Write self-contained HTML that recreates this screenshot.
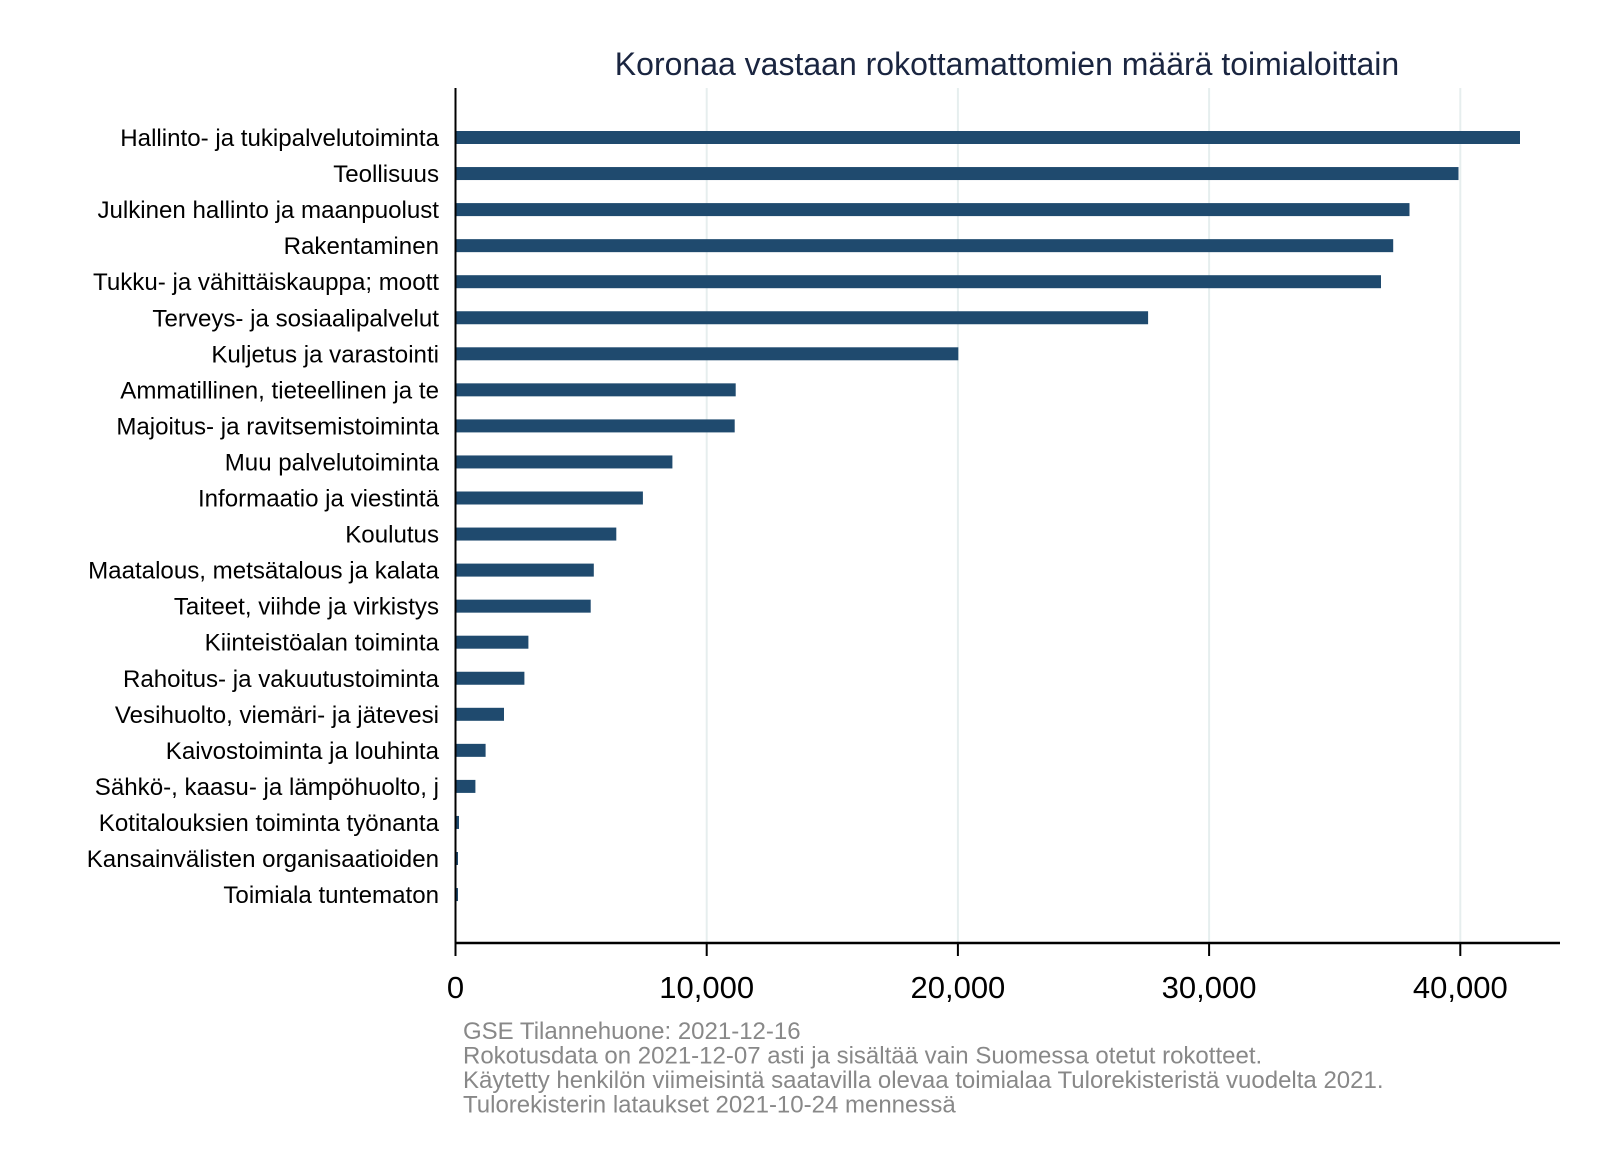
<!DOCTYPE html>
<html><head><meta charset="utf-8"><style>body{margin:0;background:#fff}svg{display:block}text{font-family:"Liberation Sans",sans-serif}</style></head><body>
<svg width="1600" height="1164" xmlns="http://www.w3.org/2000/svg">
<rect width="1600" height="1164" fill="#fff"/>
<text x="1007" y="75" font-size="32" fill="#1a2540" text-anchor="middle">Koronaa vastaan rokottamattomien määrä toimialoittain</text>
<g stroke="#e6eeee" stroke-width="2">
<line x1="706.7" y1="88" x2="706.7" y2="943"/><line x1="957.9" y1="88" x2="957.9" y2="943"/><line x1="1209.1" y1="88" x2="1209.1" y2="943"/><line x1="1460.3" y1="88" x2="1460.3" y2="943"/>
</g>
<g fill="#1f4a6e">
<rect x="456" y="131" width="1064" height="13"/>
<rect x="456" y="167.05" width="1002.5" height="13"/>
<rect x="456" y="203.1" width="953.5" height="13"/>
<rect x="456" y="239.15" width="937.2" height="13"/>
<rect x="456" y="275.2" width="925" height="13"/>
<rect x="456" y="311.25" width="692.1" height="13"/>
<rect x="456" y="347.3" width="502.3" height="13"/>
<rect x="456" y="383.35" width="279.7" height="13"/>
<rect x="456" y="419.4" width="278.7" height="13"/>
<rect x="456" y="455.45" width="216.4" height="13"/>
<rect x="456" y="491.5" width="186.9" height="13"/>
<rect x="456" y="527.55" width="160.3" height="13"/>
<rect x="456" y="563.6" width="137.8" height="13"/>
<rect x="456" y="599.65" width="134.7" height="13"/>
<rect x="456" y="635.7" width="72.4" height="13"/>
<rect x="456" y="671.75" width="68.4" height="13"/>
<rect x="456" y="707.8" width="48" height="13"/>
<rect x="456" y="743.85" width="29.6" height="13"/>
<rect x="456" y="779.9" width="19.4" height="13"/>
<rect x="456" y="815.95" width="3" height="13"/>
<rect x="456" y="852" width="2" height="13"/>
<rect x="456" y="888.05" width="2" height="13"/>
</g>
<line x1="455.5" y1="88" x2="455.5" y2="943" stroke="#000" stroke-width="2"/>
<line x1="455" y1="943" x2="1560" y2="943" stroke="#000" stroke-width="2.5"/>
<g stroke="#000" stroke-width="2">
<line x1="455.5" y1="943" x2="455.5" y2="956"/><line x1="706.7" y1="943" x2="706.7" y2="956"/><line x1="957.9" y1="943" x2="957.9" y2="956"/><line x1="1209.1" y1="943" x2="1209.1" y2="956"/><line x1="1460.3" y1="943" x2="1460.3" y2="956"/>
</g>
<g font-size="31" text-anchor="middle" fill="#000">
<text x="455.5" y="998">0</text><text x="706.7" y="998">10,000</text><text x="957.9" y="998">20,000</text><text x="1209.1" y="998">30,000</text><text x="1460.3" y="998">40,000</text>
</g>
<g font-size="24.1" text-anchor="end" fill="#000">
<text x="439" y="146">Hallinto- ja tukipalvelutoiminta</text>
<text x="439" y="182.05">Teollisuus</text>
<text x="439" y="218.1">Julkinen hallinto ja maanpuolust</text>
<text x="439" y="254.15">Rakentaminen</text>
<text x="439" y="290.2">Tukku- ja vähittäiskauppa; moott</text>
<text x="439" y="326.25">Terveys- ja sosiaalipalvelut</text>
<text x="439" y="362.3">Kuljetus ja varastointi</text>
<text x="439" y="398.35">Ammatillinen, tieteellinen ja te</text>
<text x="439" y="434.4">Majoitus- ja ravitsemistoiminta</text>
<text x="439" y="470.45">Muu palvelutoiminta</text>
<text x="439" y="506.5">Informaatio ja viestintä</text>
<text x="439" y="542.55">Koulutus</text>
<text x="439" y="578.6">Maatalous, metsätalous ja kalata</text>
<text x="439" y="614.65">Taiteet, viihde ja virkistys</text>
<text x="439" y="650.7">Kiinteistöalan toiminta</text>
<text x="439" y="686.75">Rahoitus- ja vakuutustoiminta</text>
<text x="439" y="722.8">Vesihuolto, viemäri- ja jätevesi</text>
<text x="439" y="758.85">Kaivostoiminta ja louhinta</text>
<text x="439" y="794.9">Sähkö-, kaasu- ja lämpöhuolto, j</text>
<text x="439" y="830.95">Kotitalouksien toiminta työnanta</text>
<text x="439" y="867">Kansainvälisten organisaatioiden</text>
<text x="439" y="903.05">Toimiala tuntematon</text>
</g>
<g font-size="24" fill="#888">
<text x="463" y="1039">GSE Tilannehuone: 2021-12-16</text>
<text x="463" y="1063.5">Rokotusdata on 2021-12-07 asti ja sisältää vain Suomessa otetut rokotteet.</text>
<text x="463" y="1088">Käytetty henkilön viimeisintä saatavilla olevaa toimialaa Tulorekisteristä vuodelta 2021.</text>
<text x="463" y="1112.5">Tulorekisterin lataukset 2021-10-24 mennessä</text>
</g>
</svg>
</body></html>
